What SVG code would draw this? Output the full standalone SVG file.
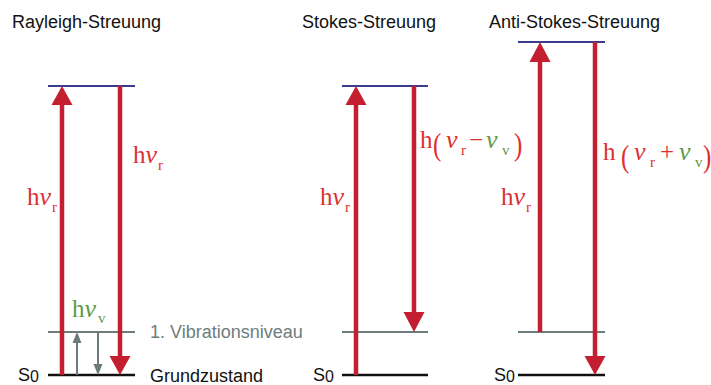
<svg xmlns="http://www.w3.org/2000/svg" width="711" height="385" viewBox="0 0 711 385">
<style>
.title{font-family:"Liberation Sans",Arial,sans-serif;font-size:18px;fill:#111}
.lab{font-family:"Liberation Sans",Arial,sans-serif;font-size:18px;fill:#111}
.vib{font-family:"Liberation Sans",Arial,sans-serif;font-size:18px;fill:#6e7c7c}
.m{font-family:"Liberation Serif","Times New Roman",serif;font-size:25px;fill:#dd3030}
.nu{font-style:italic;font-size:26px}
.sub{font-size:15px;font-style:normal}
.g{fill:#5e9a45}
.par{font-family:"Liberation Serif","Times New Roman",serif;font-size:25px;fill:#dd3030}
.top{stroke:#3c3c8e;stroke-width:2}
.vl{stroke:#6e7c7c;stroke-width:2}
.gl{stroke:#111;stroke-width:2.5}
.shaft{stroke:#c41f30;stroke-width:4.5;fill:none}
.head{fill:#c41f30}
.gshaft{stroke:#6a7a7a;stroke-width:2;fill:none}
.ghead{fill:#6a7a7a}
</style>
<g id="rayleigh">
<text class="title" x="12" y="28">Rayleigh-Streuung</text>
<line class="top" x1="48" y1="86" x2="135" y2="86"/>
<line class="vl" x1="48" y1="332" x2="135" y2="332"/>
<line class="gl" x1="48" y1="375" x2="135" y2="375"/>
<text class="lab" x="18" y="381">S<tspan font-size="16" dy="1">0</tspan></text>
<text class="lab" x="150" y="382">Grundzustand</text>
<text class="vib" x="150" y="338">1. Vibrationsniveau</text>
<text class="m" x="27" y="205">h<tspan class="nu">ν</tspan><tspan class="sub" dx="1" dy="7">r</tspan></text>
<text class="m" x="133" y="163">h<tspan class="nu">ν</tspan><tspan class="sub" dx="1" dy="7">r</tspan></text>
<text class="m g" x="72" y="317">h<tspan class="nu">ν</tspan><tspan class="sub" dx="2" dy="6">v</tspan></text>
</g>
<g id="stokes">
<text class="title" x="302" y="28">Stokes-Streuung</text>
<line class="top" x1="342" y1="86" x2="428" y2="86"/>
<line class="vl" x1="342" y1="332" x2="428" y2="332"/>
<line class="gl" x1="342" y1="375" x2="428" y2="375"/>
<text class="lab" x="313" y="381">S<tspan font-size="16" dy="1">0</tspan></text>
<text class="m" x="320" y="205">h<tspan class="nu">ν</tspan><tspan class="sub" dx="1" dy="7">r</tspan></text>
<text class="m" x="420" y="148">h<tspan class="nu" x="446" y="148">ν</tspan><tspan class="sub" x="461" y="155">r</tspan><tspan x="469" y="148">−</tspan><tspan class="g nu" x="486" y="148">ν</tspan><tspan class="sub g" x="502" y="155">v</tspan></text>
<text class="par" transform="translate(433,155) scale(1,1.3)">(</text>
<text class="par" transform="translate(514,155) scale(1,1.3)">)</text>
</g>
<g id="antistokes">
<text class="title" x="489" y="28">Anti-Stokes-Streuung</text>
<line class="top" x1="518" y1="42" x2="605" y2="42"/>
<line class="vl" x1="518" y1="332" x2="605" y2="332"/>
<line class="gl" x1="518" y1="375" x2="605" y2="375"/>
<text class="lab" x="494" y="381">S<tspan font-size="16" dy="1">0</tspan></text>
<text class="m" x="501" y="205">h<tspan class="nu">ν</tspan><tspan class="sub" dx="1" dy="7">r</tspan></text>
<text class="m" x="603" y="160">h<tspan class="nu" x="634" y="160">ν</tspan><tspan class="sub" x="650" y="167">r</tspan><tspan x="660" y="160">+</tspan><tspan class="g nu" x="679" y="160">ν</tspan><tspan class="sub g" x="695" y="167">v</tspan></text>
<text class="par" transform="translate(621,167) scale(1,1.3)">(</text>
<text class="par" transform="translate(703,167) scale(1,1.3)">)</text>
</g>
<g id="connectors">
<line class="shaft" x1="62" y1="375" x2="62" y2="102"/>
<polygon class="head" points="62,86 51.5,105 72.5,105"/>
<line class="shaft" x1="120" y1="86" x2="120" y2="359"/>
<polygon class="head" points="120,375 109.5,356 130.5,356"/>
<line class="gshaft" x1="77" y1="375" x2="77" y2="340"/>
<polygon class="ghead" points="77,332 72.5,343 81.5,343"/>
<line class="gshaft" x1="98" y1="332" x2="98" y2="367"/>
<polygon class="ghead" points="98,375 93.5,364 102.5,364"/>
<line class="shaft" x1="356" y1="375" x2="356" y2="102"/>
<polygon class="head" points="356,86 345.5,105 366.5,105"/>
<line class="shaft" x1="414" y1="86" x2="414" y2="315"/>
<polygon class="head" points="414,332 403.5,312 424.5,312"/>
<line class="shaft" x1="540" y1="332" x2="540" y2="58"/>
<polygon class="head" points="540,42 529.5,62 550.5,62"/>
<line class="shaft" x1="595" y1="42" x2="595" y2="359"/>
<polygon class="head" points="595,375 584.5,356 605.5,356"/>
</g>
</svg>
